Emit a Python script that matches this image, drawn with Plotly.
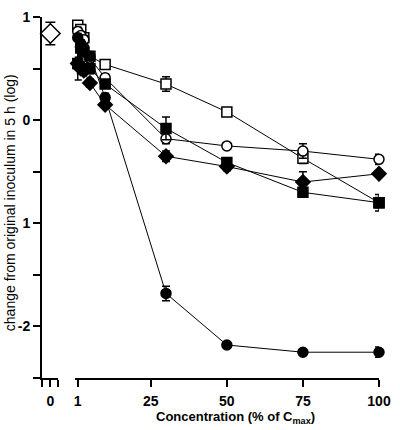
import plotly.graph_objects as go

conc = [1, 2, 3, 5, 10, 30, 50, 75, 100]

open_sq = [0.92, 0.88, 0.80, 0.62, 0.54, 0.35, 0.08, -0.37, -0.80]
open_sq_err = [0.04, 0.04, 0.04, 0.04, 0.03, 0.07, 0.03, 0.05, 0.05]
open_ci = [0.86, 0.82, 0.78, 0.60, 0.41, -0.18, -0.25, -0.30, -0.38]
open_ci_err = [0.04, 0.04, 0.04, 0.04, 0.04, 0.05, 0.03, 0.07, 0.05]
fill_sq = [0.55, 0.70, 0.66, 0.50, 0.35, -0.08, -0.41, -0.70, -0.80]
fill_sq_err = [0.16, 0.05, 0.04, 0.05, 0.04, 0.11, 0.04, 0.03, 0.08]
fill_di = [0.55, 0.50, 0.48, 0.36, 0.15, -0.35, -0.45, -0.60, -0.52]
fill_di_err = [0.06, 0.05, 0.04, 0.04, 0.03, 0.05, 0.04, 0.10, 0.03]
fill_ci = [0.80, 0.74, 0.70, 0.62, 0.22, -1.68, -2.18, -2.25, -2.25]
fill_ci_err = [0.04, 0.04, 0.04, 0.04, 0.04, 0.07, 0.03, 0.03, 0.05]

ctrl_x = [0]
ctrl_y = [0.84]
ctrl_err = [0.11]

y_tickvals = [1, 0.5, 0, -0.5, -1, -1.5, -2, -2.5]
y_ticktext = ["1", "", "0", "", "1", "", "-2", ""]
x_tickvals = [1, 25, 50, 75, 100]
x_ticktext = ["1", "25", "50", "75", "100"]

FONT = "Liberation Sans, Arial, sans-serif"

series = [
    (open_sq, open_sq_err, "square", "white"),
    (open_ci, open_ci_err, "circle", "white"),
    (fill_sq, fill_sq_err, "square", "black"),
    (fill_di, fill_di_err, "diamond", "black"),
    (fill_ci, fill_ci_err, "circle", "black"),
]

fig = go.Figure()
for ys, errs, sym, fill in series:
    fig.add_trace(go.Scatter(
        x=conc, y=ys, xaxis="x2", yaxis="y", mode="lines+markers",
        line=dict(color="black", width=1),
        marker=dict(symbol=sym, size=10 if sym != "diamond" else 11,
                    color=fill, line=dict(color="black", width=1.5)),
        error_y=dict(type="data", array=errs, color="black", thickness=1.5, width=4),
        cliponaxis=False, showlegend=False,
    ))

fig.add_trace(go.Scatter(
    x=ctrl_x, y=ctrl_y, xaxis="x", yaxis="y", mode="markers",
    marker=dict(symbol="diamond", size=15, color="white", line=dict(color="black", width=1.5)),
    error_y=dict(type="data", array=ctrl_err, color="black", thickness=1.5, width=5),
    cliponaxis=False, showlegend=False,
))

tickfont = dict(family=FONT, size=14, color="black", weight="bold")
axis_common = dict(showline=True, linecolor="black", linewidth=2, ticks="outside",
                   tickcolor="black", tickwidth=2, ticklen=7, showgrid=False, zeroline=False,
                   tickfont=tickfont, ticklabeloverflow="allow")

fig.update_layout(
    width=400, height=430,
    margin=dict(l=42, r=18, t=9, b=52),
    plot_bgcolor="white", paper_bgcolor="white",
    xaxis=dict(domain=[0, 16 / 340], range=[-1, 0.9], tickvals=[-1, 0, 0.9],
               ticktext=["", "0", ""], anchor="y", ticklabelstandoff=2, **axis_common),
    xaxis2=dict(domain=[33 / 340, 1], range=[0, 100], tickvals=x_tickvals,
                ticktext=x_ticktext, anchor="y", ticklabelstandoff=2, **axis_common),
    yaxis=dict(range=[-2.5, 1], tickvals=y_tickvals, ticktext=y_ticktext, anchor="x",
               **axis_common),
    annotations=[
        dict(text="Concentration (% of C<sub>max</sub>)", xref="paper", yref="paper",
             x=(237 - 42) / 340, y=(378 - 418) / 369, xanchor="center", yanchor="middle",
             showarrow=False, font=dict(family=FONT, size=13, color="black", weight="bold")),
        dict(text="change from original inoculum in 5 h (log)", xref="paper", yref="paper",
             x=(10 - 42) / 340, y=(378 - 199) / 369, xanchor="center", yanchor="middle",
             textangle=-90, showarrow=False,
             font=dict(family=FONT, size=14, color="black")),
    ],
)

fig.write_html("out.html", config={"displayModeBar": False},
               post_script="document.body.style.margin='0';document.body.style.overflow='hidden';")
